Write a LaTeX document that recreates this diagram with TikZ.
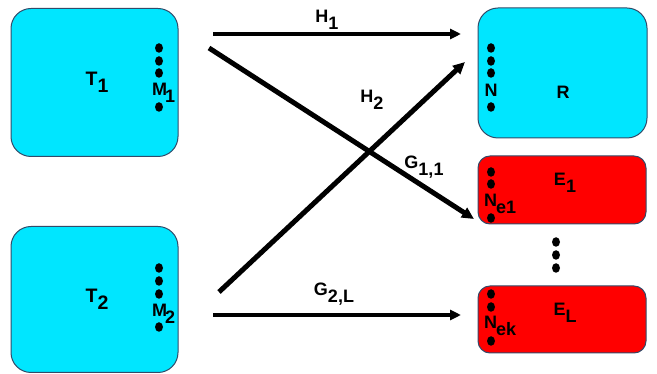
\documentclass[tikz,border=0pt]{standalone}
\usepackage{fontspec}
\setmainfont{Liberation Sans}
\usetikzlibrary{arrows.meta,shapes.geometric}
\definecolor{boxcyan}{RGB}{0,230,255}
\definecolor{boxred}{RGB}{255,0,0}
\definecolor{boxedge}{RGB}{50,75,105}
\newcommand{\sbx}[1]{\raisebox{-0.36em}{#1}}
\begin{document}
\begin{tikzpicture}[x=1pt,y=-1pt,
  cbox/.style={draw=boxedge, line width=1pt, fill=boxcyan, rounded corners=20pt, inner sep=0pt},
  rbox/.style={draw=boxedge, line width=1pt, fill=boxred, rounded corners=12pt, inner sep=0pt},
  dotn/.style={ellipse, fill=black, inner sep=0pt, minimum width=8pt, minimum height=9.5pt},
  lbl/.style={font=\fontsize{18}{18}\selectfont\bfseries, inner sep=0pt},
  big lbl/.style={font=\fontsize{19.5}{19.5}\selectfont\bfseries, inner sep=0pt},
  thin arr/.style={line width=3.6pt, -{Triangle[length=11pt,width=10pt]}},
  thick arr/.style={line width=5pt, -{Triangle[length=12pt,width=11pt]}}]
\useasboundingbox (0,0) rectangle (657,374);
% boxes
\node[cbox, minimum width=167pt, minimum height=148pt] (T1) at (94.5,82.5) {};
\node[cbox, minimum width=167pt, minimum height=146pt] (T2) at (94.5,299.5) {};
\node[cbox, minimum width=169pt, minimum height=130pt] (R) at (562.5,73) {};
\node[rbox, minimum width=168pt, minimum height=68pt] (E1) at (562,190) {};
\node[rbox, minimum width=168pt, minimum height=67pt] (EL) at (562,319.5) {};
% box labels
\node[big lbl] (t1) at (97,82) {T\sbx{1}};
\node[big lbl] (t2) at (97,299) {T\sbx{2}};
\node[lbl] (r) at (563,92) {R};
\node[lbl] (e1) at (565,183) {E\sbx{1}};
\node[lbl] (el) at (565,313) {E\sbx{L}};
% antenna dots T1
\node[dotn] (d11) at (159,48) {};
\node[dotn] (d12) at (159,61) {};
\node[dotn] (d13) at (159,73) {};
\node[lbl, anchor=west] (m1) at (152,93) {M\hspace{-2pt}\sbx{1}};
\node[dotn] (d14) at (159,107) {};
% T2
\node[dotn] (d21) at (159,268) {};
\node[dotn] (d22) at (159,281) {};
\node[dotn] (d23) at (159,294) {};
\node[lbl, anchor=west] (m2) at (152,314) {M\hspace{-2pt}\sbx{2}};
\node[dotn] (d24) at (159,327) {};
% R
\node[dotn] (dr1) at (491,48) {};
\node[dotn] (dr2) at (491,61) {};
\node[dotn] (dr3) at (491,73) {};
\node[lbl] (n) at (491,90) {N};
\node[dotn] (dr4) at (491,107) {};
% E1
\node[dotn] (de1) at (491,172) {};
\node[dotn] (de2) at (491,184) {};
\node[lbl, anchor=west] (ne1) at (484,204) {N\hspace{-1pt}\sbx{e1}};
\node[dotn] (de3) at (491,218) {};
% EL
\node[dotn] (df1) at (491,294) {};
\node[dotn] (df2) at (491,307) {};
\node[lbl, anchor=west] (nek) at (484,326) {N\hspace{-1pt}\sbx{ek}};
\node[dotn] (df3) at (491,341) {};
% vertical dots between E1 and EL
\node[dotn] (v1) at (556,242) {};
\node[dotn] (v2) at (556,255) {};
\node[dotn] (v3) at (556,268) {};
% arrow end points
\coordinate (h1s) at (213,34);
\coordinate (h1e) at (461,34);
\coordinate (gs) at (209,48);
\coordinate (ge) at (474,219);
\coordinate (h2s) at (219,292);
\coordinate (h2e) at (465,62);
\coordinate (g2s) at (213,315);
\coordinate (g2e) at (461,315);
\draw[thin arr] (h1s) -- (h1e);
\draw[thick arr] (gs) -- (ge);
\draw[thick arr] (h2s) -- (h2e);
\draw[thin arr] (g2s) -- (g2e);
% arrow labels
\node[lbl] (lh1) at (327,20) {H\sbx{1}};
\node[lbl] (lh2) at (372,100) {H\sbx{2}};
\node[lbl] (lg11) at (424,167) {G\sbx{1,1}};
\node[lbl] (lg2l) at (334,294) {G\sbx{2,L}};
\end{tikzpicture}
\end{document}
